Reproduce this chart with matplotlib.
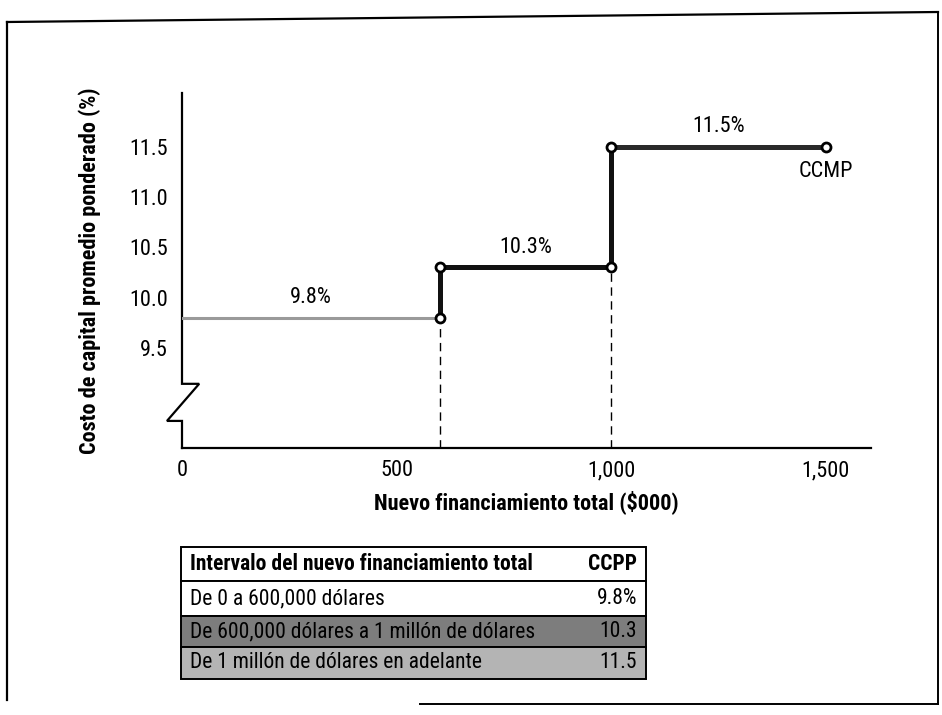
"""Costo de capital promedio ponderado por intervalo de financiamiento."""

import matplotlib as mpl

mpl.use("Agg")
import matplotlib.pyplot as plt
from matplotlib import font_manager
from matplotlib.patches import Rectangle

# the original uses a condensed sans; take the narrowest one installed
_fonts = font_manager.fontManager.ttflist
_names = {f.name for f in _fonts}
_narrow = [f.name for f in _fonts
           if str(f.stretch) in ("condensed", "semi-condensed", "extra-condensed")
           or "Narrow" in f.name or "Condensed" in f.name]
family = None
for cand in ["Liberation Sans Narrow", "Roboto Condensed", "DejaVu Sans Condensed",
             "Open Sans Condensed", "Noto Sans Condensed"]:
    if cand in _names:
        family = cand
        break
if family is None and _narrow:
    family = _narrow[0]
if family is None:
    family = "Roboto"
plt.rcParams["font.family"] = [family, "DejaVu Sans"]
plt.rcParams["font.stretch"] = "condensed"

# breakpoints of total new financing ($000) and the WACC (%) in each interval
breaks_x = [0, 600, 1000, 1500]
wacc = [9.8, 10.3, 11.5]
seg_labels = ["9.8%", "10.3%", "11.5%"]
seg_colors = ["#9a9a9a", "#111111", "#2a2a2a"]
y_ticks = [9.5, 10.0, 10.5, 11.0, 11.5]
x_ticks = [0, 500, 1000, 1500]
x_ticklabels = ["0", "500", "1,000", "1,500"]

table_header = ["Intervalo del nuevo financiamiento total", "CCPP"]
table_rows = [
    "De 0 a 600,000 dólares",
    "De 600,000 dólares a 1 millón de dólares",
    "De 1 millón de dólares en adelante",
]
table_ccpp = ["9.8%", "10.3", "11.5"]
row_colors = ["white", "#7d7d7d", "#b4b4b4"]

fs = 16 if family != "Roboto" else 13
tfs = 15.5 if family != "Roboto" else 13

W, H = 942, 715
fig = plt.figure(figsize=(W / 100, H / 100), dpi=100)

# overlay in pixel coordinates for frame and table
bg = fig.add_axes([0, 0, 1, 1])
bg.set_xlim(0, W)
bg.set_ylim(H, 0)
bg.axis("off")

ax = fig.add_axes([182 / W, (H - 448) / H, (871 - 182) / W, (448 - 93) / H])
ax.set_xlim(0, 1605)
ax.set_ylim(8.5, 12.04)

for s in ["top", "right", "left"]:
    ax.spines[s].set_visible(False)
ax.spines["bottom"].set_linewidth(1.6)

# y axis with break symbol
ax.plot([0, 0, 40, -35, 0, 0], [12.04, 9.14, 9.14, 8.77, 8.77, 8.5],
        color="black", lw=1.6, clip_on=False, solid_joinstyle="miter")

ax.set_xticks(x_ticks)
ax.set_xticklabels(x_ticklabels)
ax.set_yticks(y_ticks)
ax.set_yticklabels([f"{v:.1f}" for v in y_ticks])
ax.tick_params(length=0, labelsize=fs)
ax.tick_params(axis="x", pad=9)
ax.tick_params(axis="y", pad=10)

ax.set_xlabel("Nuevo financiamiento total ($000)", fontsize=fs,
              fontweight="bold")
ax.xaxis.set_label_coords(0.5, -0.118)
ax.set_ylabel("Costo de capital promedio ponderado (%)", fontsize=fs,
              fontweight="bold")
ax.yaxis.set_label_coords(-0.117, 0.5)

# step curve
for i, v in enumerate(wacc):
    x0, x1 = breaks_x[i], breaks_x[i + 1]
    if i == 0:
        ax.plot([x0, x1], [v, v], color=seg_colors[i], lw=2.2, zorder=2)
    else:
        ax.plot([x0, x1], [v, v], color=seg_colors[i], lw=3.6, zorder=2)
        ax.plot([x0, x0], [wacc[i - 1], v], color="#111111", lw=3.6, zorder=2)
    ax.annotate(seg_labels[i], ((x0 + x1) / 2, v), xytext=(0, 7),
                textcoords="offset points", ha="center", va="bottom",
                fontsize=fs)

# dashed guides at breakpoints
for i in range(1, len(breaks_x) - 1):
    ax.plot([breaks_x[i], breaks_x[i]], [8.5, wacc[i - 1]], color="black",
            lw=1.0, ls=(0, (6, 4)), zorder=1)

# open circles at the step corners
cx, cy = [], []
for i in range(1, len(breaks_x)):
    cx.append(breaks_x[i])
    cy.append(wacc[i - 1])
    if i < len(wacc):
        cx.append(breaks_x[i])
        cy.append(wacc[i])
ax.scatter(cx, cy, s=42, facecolor="white", edgecolor="black", lw=2.0, zorder=3)

ax.annotate("CCMP", (breaks_x[-1], wacc[-1]), xytext=(0, -10),
            textcoords="offset points", ha="center", va="top", fontsize=fs)

# table below the chart
tx0, tx1 = 181, 646
row_y = [547, 581, 616, 647, 679]
for i in range(len(table_rows) + 1):
    y0, y1 = row_y[i], row_y[i + 1]
    fc = "white" if i == 0 else row_colors[i - 1]
    bg.add_patch(Rectangle((tx0, y0), tx1 - tx0, y1 - y0, facecolor=fc,
                           edgecolor="black", lw=1.4))
    ym = (y0 + y1) / 2
    if i == 0:
        bg.text(tx0 + 9, ym, table_header[0], fontsize=tfs, fontweight="bold",
                va="center", ha="left")
        bg.text(tx1 - 9, ym, table_header[1], fontsize=tfs, fontweight="bold",
                va="center", ha="right")
    else:
        bg.text(tx0 + 9, ym, table_rows[i - 1], fontsize=tfs, va="center",
                ha="left")
        bg.text(tx1 - 9, ym, table_ccpp[i - 1], fontsize=tfs, va="center",
                ha="right")

# page frame
bg.plot([7, 7], [22, 700], color="black", lw=1.6)
bg.plot([7, 938], [22, 12], color="black", lw=1.6)
bg.plot([938, 938], [12, 704], color="black", lw=1.4)
bg.plot([420, 938], [704, 704], color="black", lw=1.4)

fig.savefig("out.png", dpi=100)
